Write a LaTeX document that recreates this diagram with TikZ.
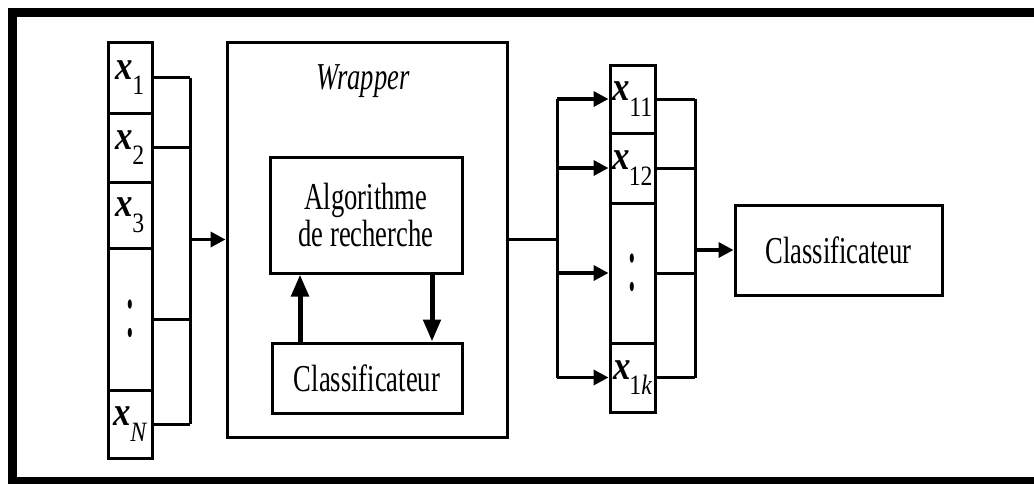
\documentclass[tikz,border=0pt]{standalone}
\usepackage{fontspec}
\setmainfont{Liberation Serif}
\newfontfamily\narrowserif[FakeStretch=0.7]{Liberation Serif}
\newfontfamily\labelserif[FakeStretch=0.85]{Liberation Serif}
\usetikzlibrary{arrows.meta}
% variable with an index, e.g. x_1
\newcommand\xsub[1]{{\bfseries\itshape x}\kern-1pt\raisebox{-0.38em}{\fontsize{28}{28}\selectfont #1}}
\newcommand\vdotsbig{\scalebox{1}[1.9]{:}}

\begin{document}
\begin{tikzpicture}[x=1pt,y=-1pt,
  box/.style={draw, line width=3pt, inner sep=0pt},
  cell/.style={box, minimum width=44pt, font=\labelserif\fontsize{41}{41}\selectfont},
  lbl/.style={font=\narrowserif\fontsize{38}{40}\selectfont, align=center},
  wire/.style={line width=3pt},
  feed/.style={line width=3.5pt, -{Triangle[length=15pt,width=15pt]}},
  fat/.style={line width=5pt, -{Triangle[length=22pt,width=17pt]}}]

\useasboundingbox (0,0) rectangle (1034,483);

% outer frame (its right side runs past the page edge)
\draw[line width=9pt] (12.5,12) rectangle (1045,481);

% input features
\node[cell, minimum height=71pt] (l1) at (130,77.5) {\xsub{1}};
\node[cell, minimum height=69pt] (l2) at (130,147.5) {\xsub{2}};
\node[cell, minimum height=66pt] (l3) at (130,215) {\xsub{3}};
\node[cell, minimum height=142pt] (ld) at (130,319) {\vdotsbig};
\node[cell, minimum height=68pt] (lN) at (130,424) {\xsub{\itshape N}};

% wrapper block
\node[box, minimum width=280pt, minimum height=395pt] (wrap) at (367,239.5) {};
\node[lbl, font=\narrowserif\itshape\fontsize{38}{40}\selectfont] (wtitle) at (363,81) {Wrapper};
\node[box, lbl, minimum width=192pt, minimum height=116pt] (algo) at (366,215) {Algorithme\\[-3pt]de recherche};
\node[box, lbl, minimum width=190pt, minimum height=70pt] (clsin) at (367,378) {Classificateur};

% selected features
\node[cell, minimum width=45pt, minimum height=68pt] (r1) at (632.5,99) {\xsub{11}};
\node[cell, minimum width=45pt, minimum height=70pt] (r2) at (632.5,168) {\xsub{12}};
\node[cell, minimum width=45pt, minimum height=140pt] (rd) at (632.5,273) {\vdotsbig};
\node[cell, minimum width=45pt, minimum height=69pt] (rk) at (632.5,377.5) {\xsub{1{\itshape k}}};

% final classifier
\node[box, lbl, minimum width=207pt, minimum height=90pt] (cls) at (838.5,250) {Classificateur};

% bus coordinates
\coordinate (busL) at (190,239.5);
\coordinate (busM) at (557,239.5);
\coordinate (busR) at (695,250);

% inputs to wrapper
\foreach \n in {l1,l2,ld,lN} \draw[wire] (\n.east) -- (\n.east -| busL);
\draw[wire] (l1.east -| busL) -- (lN.east -| busL);
\draw[feed] (busL) -- (wrap.west);

% search loop
\draw[fat] (clsin.north -| 300,0) -- (algo.south -| 300,0);
\draw[fat] (algo.south -| 432,0) -- (clsin.north -| 432,0);

% wrapper to selected features
\draw[wire] (wrap.east) -- (busM);
\draw[wire] (r1.west -| busM) -- (rk.west -| busM);
\foreach \n in {r1,r2,rd,rk} \draw[feed] (\n.west -| busM) -- (\n.west);

% selected features to classifier
\foreach \n in {r1,r2,rd,rk} \draw[wire] (\n.east) -- (\n.east -| busR);
\draw[wire] (r1.east -| busR) -- (rk.east -| busR);
\draw[feed] (busR) -- (cls.west);
\end{tikzpicture}
\end{document}
